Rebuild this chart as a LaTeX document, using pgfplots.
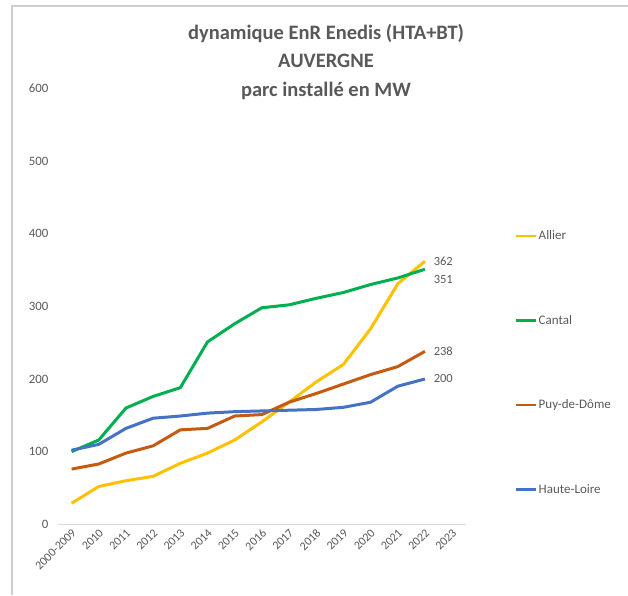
\documentclass[border=0pt]{standalone}
\usepackage{pgfplots}
\pgfplotsset{compat=1.18}
\usepackage{fontspec}
\setmainfont{Carlito}
\definecolor{cyellow}{HTML}{FFC000}
\definecolor{cgreen}{HTML}{00B050}
\definecolor{corange}{HTML}{C55A11}
\definecolor{cblue}{HTML}{4472C4}
\definecolor{txtgray}{HTML}{595959}
\definecolor{axgray}{HTML}{D9D9D9}
\definecolor{framegray}{HTML}{CFCFCF}
\begin{document}
\begin{tikzpicture}
\useasboundingbox (0pt,0pt) rectangle (628pt,595pt);
\draw[framegray, line width=1.3pt] (12pt,0pt) -- (12pt,589pt) -- (628pt,589pt);
\node[text=txtgray, font=\bfseries\fontsize{20.5}{28.5}\selectfont, align=center] at (326pt,533pt) {dynamique EnR Enedis (HTA+BT)\\AUVERGNE\\parc installé en MW};
\begin{axis}[
  at={(58pt,70.7pt)}, anchor=south west,
  scale only axis, width=407.7pt, height=436pt,
  xmin=-0.5, xmax=14.5, ymin=0, ymax=600,
  xtick={0,...,14},
  xticklabels={2000-2009,2010,2011,2012,2013,2014,2015,2016,2017,2018,2019,2020,2021,2022,2023},
  ytick={0,100,...,600},
  axis x line=bottom, axis y line=left,
  axis line style={-},
  x axis line style={draw=axgray, line width=1pt},
  y axis line style={draw=none},
  tick style={draw=none},
  xticklabel style={rotate=45, anchor=east, font=\fontsize{12}{14}\selectfont, text=txtgray, yshift=-5pt, xshift=2pt},
  yticklabel style={font=\fontsize{12.8}{14}\selectfont, text=txtgray, xshift=-4pt},
  /pgf/number format/assume math mode=true,
  legend style={draw=none, fill=none, at={(1.121,0.371)}, anchor=west,
    font=\fontsize{13}{15}\selectfont, text=txtgray, row sep=72pt, inner sep=0pt,
    nodes={inner sep=1pt}},
  legend cell align=left,
  legend image code/.code={\draw[#1, line width=2.5pt] (0pt,0pt) -- (20pt,0pt);},
  every axis plot/.append style={line width=3pt, mark=none},
  clip=false,
]
\addplot[cyellow] coordinates {(0,29) (1,52) (2,60) (3,66) (4,84) (5,98) (6,116) (7,141) (8,168) (9,196) (10,220) (11,269) (12,331) (13,362)}
  node[pos=1, right, xshift=4pt, font=\fontsize{12.5}{14}\selectfont, text=txtgray] {362};
\addlegendentry{Allier}
\addplot[cgreen] coordinates {(0,100) (1,116) (2,160) (3,176) (4,188) (5,251) (6,276) (7,298) (8,302) (9,311) (10,319) (11,330) (12,339) (13,351)}
  node[pos=1, right, xshift=4pt, yshift=-10pt, font=\fontsize{12.5}{14}\selectfont, text=txtgray] {351};
\addlegendentry{Cantal}
\addplot[corange] coordinates {(0,76) (1,83) (2,98) (3,108) (4,130) (5,132) (6,149) (7,151) (8,168) (9,180) (10,193) (11,206) (12,217) (13,238)}
  node[pos=1, right, xshift=4pt, font=\fontsize{12.5}{14}\selectfont, text=txtgray] {238};
\addlegendentry{Puy-de-Dôme}
\addplot[cblue] coordinates {(0,102) (1,110) (2,132) (3,146) (4,149) (5,153) (6,155) (7,156) (8,157) (9,158) (10,161) (11,168) (12,190) (13,200)}
  node[pos=1, right, xshift=4pt, font=\fontsize{12.5}{14}\selectfont, text=txtgray] {200};
\addlegendentry{Haute-Loire}
\end{axis}
\end{tikzpicture}
\end{document}
